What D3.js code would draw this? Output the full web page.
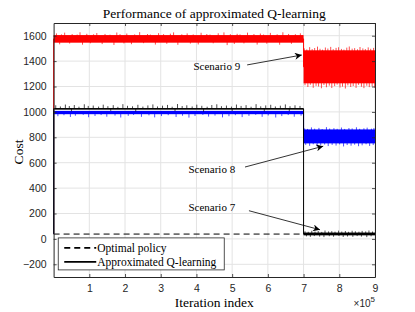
<!DOCTYPE html>
<html>
<head>
<meta charset="utf-8">
<script src="https://cdn.jsdelivr.net/npm/d3@7"></script>
<style>
  body { margin: 0; background: #fff; }
  svg { display: block; }
</style>
</head>
<body>
<div id="chart"></div>
<script>
// iterations (x1e5): start, switch point, end
var segments = [0, 7, 9];
var yTicks = [-200, 0, 200, 400, 600, 800, 1000, 1200, 1400, 1600];
var xTicks = [1, 2, 3, 4, 5, 6, 7, 8, 9];

// start value, level before switch, level after switch
var redLevels = [40, 1575, 1355];
var blueLevels = [40, 996, 808];
var blackLevels = [40, 1024, 39];
var optimalCost = 38;

// dense noise band [low, high] before / after switch
var redBand = [[1545, 1605], [1225, 1485]];
var blueBand = [[982, 1008], [752, 862]];
var blackBand = [[1019, 1030], [28, 50]];

// spikes sticking out of the band: [iteration x1e5, cost]
var redSpikes = [[0.08,1618],[0.22,1610],[0.31,1624],[0.52,1613],[0.66,1609],[0.74,1627],[0.93,1615],[1.12,1611],[1.21,1621],[1.44,1614],[1.58,1608],[1.77,1625],[1.86,1612],[2.05,1617],[2.27,1610],[2.41,1628],[2.63,1613],[2.71,1609],[2.94,1620],[3.08,1612],[3.27,1616],[3.36,1626],[3.59,1611],[3.74,1618],[3.91,1610],[4.13,1623],[4.29,1613],[4.38,1609],[4.61,1619],[4.77,1626],[4.95,1612],[5.14,1615],[5.22,1610],[5.43,1624],[5.61,1613],[5.79,1617],[5.88,1609],[6.07,1622],[6.26,1611],[6.42,1627],[6.58,1614],[6.77,1612],[6.91,1619],
  [0.17,1532],[0.45,1538],[0.81,1529],[1.03,1540],[1.36,1534],[1.69,1527],[1.97,1539],[2.18,1533],[2.52,1541],[2.85,1530],[3.17,1536],[3.48,1528],[3.83,1538],[4.05,1531],[4.47,1540],[4.86,1526],[5.06,1535],[5.33,1539],[5.70,1530],[5.97,1537],[6.33,1529],[6.66,1536],
  [7.02,1500],[7.09,1492],[7.17,1510],[7.24,1495],[7.31,1503],[7.39,1514],[7.46,1497],[7.53,1490],[7.61,1507],[7.68,1499],[7.76,1512],[7.83,1494],[7.91,1504],[7.98,1509],[8.06,1496],[8.13,1491],[8.21,1506],[8.28,1515],[8.36,1498],[8.43,1502],[8.51,1493],[8.58,1511],[8.66,1500],[8.73,1495],[8.81,1508],[8.88,1497],[8.96,1504],
  [7.04,1210],[7.12,1196],[7.19,1214],[7.27,1190],[7.35,1205],[7.42,1200],[7.50,1186],[7.57,1212],[7.64,1194],[7.72,1207],[7.79,1188],[7.87,1203],[7.94,1215],[8.02,1192],[8.09,1199],[8.17,1184],[8.24,1209],[8.32,1196],[8.39,1204],[8.47,1189],[8.54,1213],[8.62,1198],[8.69,1187],[8.77,1206],[8.84,1195],[8.92,1202],[8.99,1191]];
var blueSpikes = [[0.12,966],[0.29,974],[0.47,960],[0.61,970],[0.83,977],[0.98,958],[1.16,968],[1.33,975],[1.49,962],[1.72,971],[1.88,956],[2.09,969],[2.24,976],[2.46,961],[2.67,973],[2.83,957],[3.02,967],[3.21,974],[3.43,960],[3.61,970],[3.79,955],[3.96,968],[4.18,976],[4.34,963],[4.52,971],[4.73,957],[4.91,966],[5.09,974],[5.28,959],[5.47,969],[5.66,977],[5.84,961],[6.01,972],[6.22,956],[6.39,967],[6.57,975],[6.74,962],[6.93,970],
  [7.03,870],[7.11,866],[7.22,878],[7.31,868],[7.43,874],[7.52,865],[7.64,880],[7.73,869],[7.85,872],[7.94,867],[8.06,877],[8.15,866],[8.27,873],[8.36,870],[8.48,879],[8.57,867],[8.69,871],[8.78,876],[8.90,868],[8.97,873],
  [7.06,740],[7.17,733],[7.27,745],[7.38,729],[7.48,738],[7.59,743],[7.69,731],[7.80,740],[7.91,735],[8.01,744],[8.12,728],[8.22,739],[8.33,734],[8.43,742],[8.54,730],[8.64,737],[8.75,745],[8.85,732],[8.95,739]];
var blackSpikes = [[0.06,1052],[0.19,1043],[0.33,1058],[0.44,1046],[0.58,1054],[0.71,1041],[0.86,1060],[0.97,1047],[1.11,1050],[1.26,1042],[1.39,1057],[1.52,1045],[1.67,1053],[1.80,1040],[1.94,1061],[2.07,1048],[2.21,1044],[2.36,1056],[2.50,1042],[2.64,1051],[2.78,1059],[2.91,1043],[3.05,1049],[3.19,1055],[3.32,1041],[3.47,1062],[3.60,1046],[3.73,1052],[3.88,1043],[4.01,1057],[4.15,1048],[4.30,1041],[4.43,1054],[4.57,1060],[4.70,1045],[4.84,1050],[4.98,1042],[5.12,1058],[5.25,1047],[5.39,1053],[5.53,1041],[5.67,1061],[5.80,1044],[5.94,1051],[6.08,1056],[6.21,1043],[6.35,1049],[6.49,1059],[6.62,1045],[6.76,1052],[6.90,1047],
  [0.50,1005],[1.60,1008],[2.30,1003],[3.40,1006],[4.20,1002],[5.00,1007],[5.90,1004],[6.60,1006],
  [7.04,60],[7.13,56],[7.23,64],[7.32,58],[7.41,62],[7.51,55],[7.60,66],[7.70,59],[7.79,61],[7.88,57],[7.98,65],[8.07,58],[8.17,62],[8.26,56],[8.36,64],[8.45,60],[8.55,57],[8.64,63],[8.74,59],[8.83,66],[8.93,58],
  [7.08,20],[7.19,16],[7.30,22],[7.45,18],[7.57,14],[7.72,21],[7.84,17],[7.99,23],[8.11,15],[8.23,19],[8.38,16],[8.50,22],[8.62,18],[8.77,14],[8.89,20]];

// annotations: label position and arrow (data units)
var annotations = [
  {text: "Scenario 9", tx: 4.57, ty: 1330, from: [5.42, 1370], to: [6.95, 1448]},
  {text: "Scenario 8", tx: 4.43, ty: 520, from: [5.36, 566], to: [7.55, 730]},
  {text: "Scenario 7", tx: 4.43, ty: 220, from: [5.47, 222], to: [7.46, 72]}
];

drawChart();

function drawChart() {
  var W = 415, H = 312;
  var margin = {top: 23, right: 40, bottom: 35, left: 53.6};
  var width = W - margin.left - margin.right,
      height = H - margin.top - margin.bottom;

  var svg = d3.select("#chart").append("svg").attr("width", W).attr("height", H);
  var g = svg.append("g").attr("transform", "translate(" + margin.left + "," + margin.top + ")");

  var x = d3.scaleLinear().domain([0, 9]).range([0, width]);
  var y = d3.scaleLinear().domain([-300, 1700]).range([height, 0]);

  var axisColor = "#262626";
  var serif = "Liberation Serif, Times New Roman, serif";

  // grid
  g.append("g").selectAll("line").data(xTicks).enter().append("line")
      .attr("x1", function(d) { return x(d); }).attr("x2", function(d) { return x(d); })
      .attr("y1", 0).attr("y2", height)
      .attr("stroke", "#e3e3e3").attr("stroke-width", 1);
  g.append("g").selectAll("line").data(yTicks).enter().append("line")
      .attr("y1", function(d) { return y(d); }).attr("y2", function(d) { return y(d); })
      .attr("x1", 0).attr("x2", width)
      .attr("stroke", "#e3e3e3").attr("stroke-width", 1);

  // optimal policy dashed line
  g.append("line")
      .attr("x1", x(0)).attr("x2", x(9))
      .attr("y1", y(optimalCost)).attr("y2", y(optimalCost))
      .attr("stroke", "#000").attr("stroke-width", 1)
      .attr("stroke-dasharray", "6,4");

  function drawSeries(levels, bands, spikes, color) {
    var s = g.append("g");
    // level path with vertical jumps
    var pts = [[segments[0], levels[0]], [segments[0], levels[1]], [segments[1], levels[1]],
               [segments[1], levels[2]], [segments[2], levels[2]]];
    s.append("path")
        .datum(pts)
        .attr("fill", "none")
        .attr("stroke", color)
        .attr("stroke-width", 1)
        .attr("d", d3.line().x(function(d) { return x(d[0]); }).y(function(d) { return y(d[1]); }));
    // noise bands
    bands.forEach(function(b, i) {
      s.append("rect")
          .attr("x", x(segments[i]))
          .attr("width", x(segments[i + 1]) - x(segments[i]))
          .attr("y", y(b[1]))
          .attr("height", y(b[0]) - y(b[1]))
          .attr("fill", color);
    });
    // spikes
    s.selectAll("line.spike").data(spikes).enter().append("line")
        .attr("class", "spike")
        .attr("x1", function(d) { return x(d[0]); })
        .attr("x2", function(d) { return x(d[0]); })
        .attr("y1", function(d) { return y(d[0] < segments[1] ? levels[1] : levels[2]); })
        .attr("y2", function(d) { return y(d[1]); })
        .attr("stroke", color)
        .attr("stroke-width", 0.7);
  }

  drawSeries(redLevels, redBand, redSpikes, "#ff0000");
  drawSeries(blueLevels, blueBand, blueSpikes, "#0000ff");
  drawSeries(blackLevels, blackBand, blackSpikes, "#000000");

  // annotations
  var defs = svg.append("defs");
  defs.append("marker")
      .attr("id", "arrow")
      .attr("viewBox", "0 0 10 10")
      .attr("refX", 10).attr("refY", 5)
      .attr("markerWidth", 10).attr("markerHeight", 7)
      .attr("markerUnits", "userSpaceOnUse")
      .attr("orient", "auto")
      .append("path").attr("d", "M0,0 L10,5 L0,10 L3,5 Z").attr("fill", "#000");

  annotations.forEach(function(a) {
    g.append("line")
        .attr("x1", x(a.from[0])).attr("y1", y(a.from[1]))
        .attr("x2", x(a.to[0])).attr("y2", y(a.to[1]))
        .attr("stroke", "#000").attr("stroke-width", 0.8)
        .attr("marker-end", "url(#arrow)");
    g.append("text")
        .attr("x", x(a.tx)).attr("y", y(a.ty))
        .attr("text-anchor", "middle")
        .attr("font-family", serif)
        .attr("font-size", "11px")
        .attr("fill", "#000")
        .text(a.text);
  });

  // legend
  var leg = g.append("g").attr("transform", "translate(" + x(0.13) + "," + (y(0) - 1) + ")");
  leg.append("rect").attr("x", 0).attr("y", 0).attr("width", 166).attr("height", 32)
      .attr("fill", "#fff").attr("stroke", axisColor).attr("stroke-width", 0.8);
  leg.append("line").attr("x1", 6).attr("x2", 38).attr("y1", 10).attr("y2", 10)
      .attr("stroke", "#000").attr("stroke-width", 1.6).attr("stroke-dasharray", "6,4");
  leg.append("line").attr("x1", 6).attr("x2", 38).attr("y1", 24).attr("y2", 24)
      .attr("stroke", "#000").attr("stroke-width", 1.8);
  leg.append("text").attr("x", 39).attr("y", 14)
      .attr("font-family", serif).attr("font-size", "11.5px").text("Optimal policy");
  leg.append("text").attr("x", 39).attr("y", 28)
      .attr("font-family", serif).attr("font-size", "11.5px").text("Approximated Q-learning");

  // axes (box with inward ticks)
  var tickFont = "Liberation Sans, Helvetica, Arial, sans-serif";
  var ax = g.append("g").attr("transform", "translate(0," + height + ")")
      .call(d3.axisBottom(x).tickValues(xTicks).tickSizeInner(-3).tickSizeOuter(0).tickPadding(8).tickFormat(d3.format("d")));
  var axTop = g.append("g")
      .call(d3.axisTop(x).tickValues(xTicks).tickSizeInner(-3).tickSizeOuter(0).tickFormat(""));
  var ay = g.append("g")
      .call(d3.axisLeft(y).tickValues(yTicks).tickSizeInner(-3).tickSizeOuter(0).tickPadding(7).tickFormat(d3.format("d")));
  var ayR = g.append("g").attr("transform", "translate(" + width + ",0)")
      .call(d3.axisRight(y).tickValues(yTicks).tickSizeInner(-3).tickSizeOuter(0).tickFormat(""));
  [ax, axTop, ay, ayR].forEach(function(a) {
    a.select(".domain").attr("stroke", axisColor).attr("stroke-width", 1);
    a.selectAll(".tick line").attr("stroke", axisColor).attr("stroke-width", 0.8);
    a.selectAll("text").attr("font-family", tickFont).attr("font-size", "10.5px").attr("fill", axisColor);
  });

  // title and axis labels
  svg.append("text")
      .attr("x", margin.left + width / 2).attr("y", 18)
      .attr("text-anchor", "middle")
      .attr("font-family", serif).attr("font-size", "13.5px")
      .text("Performance of approximated Q-learning");
  svg.append("text")
      .attr("x", margin.left + width / 2).attr("y", 307)
      .attr("text-anchor", "middle")
      .attr("font-family", serif).attr("font-size", "13.5px")
      .text("Iteration index");
  svg.append("text")
      .attr("transform", "translate(23," + (margin.top + height / 2 + 2) + ") rotate(-90)")
      .attr("text-anchor", "middle")
      .attr("font-family", serif).attr("font-size", "13.5px")
      .text("Cost");
  var mult = svg.append("text")
      .attr("x", margin.left + width).attr("y", 307)
      .attr("text-anchor", "end")
      .attr("font-family", tickFont).attr("font-size", "10px").attr("fill", axisColor);
  mult.append("tspan").text("\u00d710");
  mult.append("tspan").attr("dy", -5).attr("font-size", "8px").text("5");
}
</script>
</body>
</html>
